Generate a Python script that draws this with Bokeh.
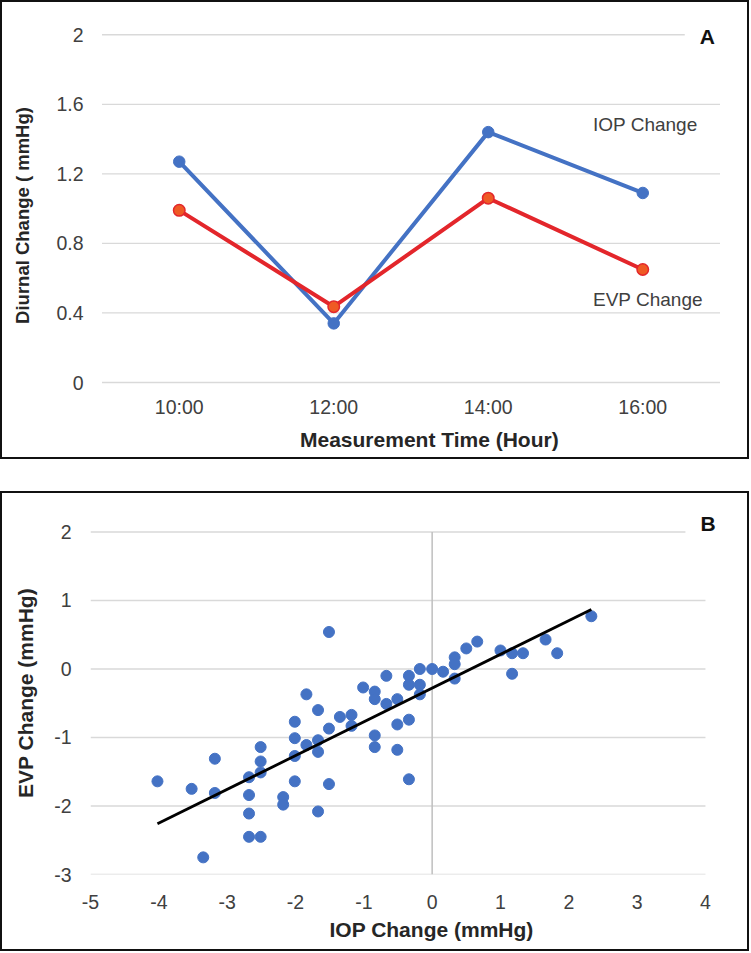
from bokeh.plotting import figure
from bokeh.models import (ColumnDataSource, FactorRange, Range1d, FixedTicker,
                          Label, Spacer, Title)
from bokeh.layouts import column
from bokeh.embed import file_html
from bokeh.resources import INLINE

# ---------------- data ----------------
times = ["10:00", "12:00", "14:00", "16:00"]
iop_diurnal = [1.27, 0.34, 1.44, 1.09]
evp_diurnal = [0.99, 0.436, 1.06, 0.65]
a_y_ticks = [0, 0.4, 0.8, 1.2, 1.6, 2]
a_y_labels = ["0", "0.4", "0.8", "1.2", "1.6", "2"]

iop_change = [-4.02, -3.52, -3.18, -3.18, -3.35, -2.68, -2.68, -2.68, -2.68, -2.51,
              -2.51, -2.51, -2.51, -2.18, -2.18, -2.01, -2.01, -2.01, -2.01, -1.84,
              -1.84, -1.67, -1.67, -1.67, -1.67, -1.51, -1.51, -1.51, -1.35, -1.18,
              -1.18, -1.01, -0.84, -0.84, -0.84, -0.84, -0.67, -0.67, -0.51, -0.51,
              -0.51, -0.34, -0.34, -0.34, -0.34, -0.18, -0.18, -0.18, 0.0, 0.16,
              0.33, 0.33, 0.33, 0.50, 0.66, 1.00, 1.17, 1.17, 1.33, 1.66,
              1.83, 2.33]
evp_change = [-1.64, -1.75, -1.31, -1.81, -2.75, -1.58, -1.84, -2.11, -2.45, -2.45,
              -1.14, -1.35, -1.51, -1.87, -1.98, -0.77, -1.01, -1.27, -1.64, -0.37,
              -1.11, -0.60, -1.04, -1.21, -2.08, 0.54, -0.87, -1.68, -0.70, -0.67,
              -0.83, -0.27, -0.33, -0.44, -0.97, -1.14, -0.10, -0.51, -0.44, -0.81,
              -1.18, -0.10, -0.23, -0.74, -1.61, 0.0, -0.23, -0.37, 0.0, -0.04,
              0.17, 0.07, -0.14, 0.30, 0.40, 0.27, 0.23, -0.07, 0.23, 0.43,
              0.23, 0.77]
trend_x = [-4.02, 2.33]
trend_y = [-2.26, 0.87]
b_x_ticks = [-5, -4, -3, -2, -1, 0, 1, 2, 3, 4]
b_y_ticks = [-3, -2, -1, 0, 1, 2]

FONT = "Liberation Sans"
TICK_C = "#404040"
TITLE_C = "#262626"
GRID_C = "#D9D9D9"
BLUE = "#4472C4"
RED = "#E3262B"

BOX = {"box-shadow": "0 0 0 2px #111111"}


def style_axis(ax, size="19.5px"):
    ax.major_tick_line_color = None
    ax.minor_tick_line_color = None
    ax.major_tick_out = 0
    ax.major_tick_in = 0
    ax.axis_line_color = None
    ax.major_label_text_font = FONT
    ax.major_label_text_font_size = size
    ax.major_label_text_color = TICK_C
    ax.axis_label_text_font = FONT
    ax.axis_label_text_font_style = "bold"
    ax.axis_label_text_color = TITLE_C


def axis_title(text, size, standoff, offset, align="left"):
    return Title(text=text, align=align, offset=offset, standoff=standoff,
                 text_font=FONT, text_font_size=size, text_font_style="bold",
                 text_color=TITLE_C)


# ---------------- panel A ----------------
pA = figure(width=745, height=455,
            x_range=FactorRange(factors=times, range_padding=0.0372),
            y_range=Range1d(-0.161, 2.082), output_backend="svg", toolbar_location=None,
            min_border_left=88, min_border_right=16, min_border_top=18,
            min_border_bottom=47, styles=BOX, margin=(2, 2, 2, 2))
pA.outline_line_color = None
pA.background_fill_color = "white"
pA.border_fill_color = "white"
pA.grid.grid_line_color = None
pA.yaxis.ticker = FixedTicker(ticks=a_y_ticks)
pA.yaxis.major_label_overrides = {t: l for t, l in zip(a_y_ticks, a_y_labels)}

gridA = ColumnDataSource(dict(x0=[0] * len(a_y_ticks), x1=[len(times)] * len(a_y_ticks),
                              y=a_y_ticks))
pA.segment(x0="x0", x1="x1", y0="y", y1="y", source=gridA, line_color=GRID_C,
           line_width=1.3)

srcA = ColumnDataSource(dict(t=times, iop=iop_diurnal, evp=evp_diurnal))
pA.line("t", "iop", source=srcA, line_color=BLUE, line_width=4)
pA.scatter("t", "iop", source=srcA, size=11.5, fill_color=BLUE, line_color=BLUE)
pA.line("t", "evp", source=srcA, line_color=RED, line_width=4)
pA.scatter("t", "evp", source=srcA, size=11.5, fill_color="#EF5A24", line_color=RED,
           line_width=1.5)

style_axis(pA.xaxis[0])
style_axis(pA.yaxis[0])
pA.xaxis.major_label_standoff = -15
pA.yaxis.major_label_standoff = 7
pA.yaxis.axis_label = "Diurnal Change ( mmHg)"
pA.yaxis.axis_label_text_font_size = "18.5px"
pA.yaxis.axis_label_standoff = 20
pA.add_layout(axis_title("Measurement Time (Hour)", "21px", 11, 209.5), "below")

pA.add_layout(Label(x=3.918, y=1.992, text="A", text_font=FONT, text_font_size="21px",
                    text_font_style="bold", text_color="#111111", text_align="center",
                    text_baseline="middle", background_fill_color="white", padding=15))
pA.add_layout(Label(x=3.178, y=1.484, text="IOP Change", text_font=FONT,
                    text_font_size="19px", text_color=TICK_C, text_align="left",
                    text_baseline="middle"))
pA.add_layout(Label(x=3.178, y=0.477, text="EVP Change", text_font=FONT,
                    text_font_size="19px", text_color=TICK_C, text_align="left",
                    text_baseline="middle"))

# ---------------- panel B ----------------
pB = figure(width=745, height=456, x_range=Range1d(-5, 4.381), y_range=Range1d(-3, 2.299),
            output_backend="svg", toolbar_location=None,
            min_border_left=88, min_border_right=16, min_border_top=18,
            min_border_bottom=75, styles=BOX, margin=(2, 2, 2, 2))
pB.outline_line_color = None
pB.background_fill_color = "white"
pB.border_fill_color = "white"
pB.grid.grid_line_color = None
pB.xaxis.ticker = FixedTicker(ticks=b_x_ticks)
pB.yaxis.ticker = FixedTicker(ticks=b_y_ticks)
pB.xaxis.major_label_overrides = {t: str(t) for t in b_x_ticks}
pB.yaxis.major_label_overrides = {t: str(t) for t in b_y_ticks}

gridB = ColumnDataSource(dict(x0=[min(b_x_ticks)] * len(b_y_ticks),
                              x1=[max(b_x_ticks)] * len(b_y_ticks), y=b_y_ticks))
pB.segment(x0="x0", x1="x1", y0="y", y1="y", source=gridB, line_color=GRID_C,
           line_width=1.3)
pB.segment(x0=[0], x1=[0], y0=[min(b_y_ticks)], y1=[max(b_y_ticks)],
           line_color="#BFBFBF", line_width=1.5)

srcB = ColumnDataSource(dict(x=iop_change, y=evp_change))
pB.scatter("x", "y", source=srcB, size=11, fill_color=BLUE, line_color=BLUE)
pB.line(trend_x, trend_y, line_color="black", line_width=2.8)

style_axis(pB.xaxis[0])
style_axis(pB.yaxis[0])
pB.xaxis.major_label_standoff = 20
pB.yaxis.major_label_standoff = 19
pB.yaxis.axis_label = "EVP Change (mmHg)"
pB.yaxis.axis_label_text_font_size = "21px"
pB.yaxis.axis_label_standoff = 14
pB.add_layout(axis_title("IOP Change (mmHg)", "21px", 9, 239), "below")

pB.add_layout(Label(x=4.037, y=2.131, text="B", text_font=FONT, text_font_size="21px",
                    text_font_style="bold", text_color="#111111", text_align="center",
                    text_baseline="middle", background_fill_color="white", padding=15))

root = column(pA, Spacer(height=32), pB, spacing=0)

open("out.html", "w").write(file_html(root, INLINE))
